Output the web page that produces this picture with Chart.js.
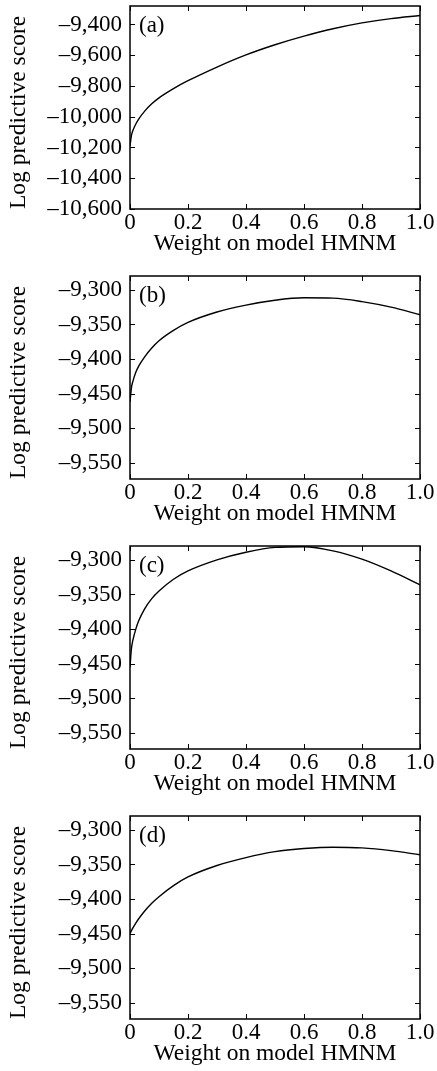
<!DOCTYPE html>
<html>
<head>
<meta charset="utf-8">
<title>Log predictive score against weight on model HMNM</title>
<script src="https://cdn.jsdelivr.net/npm/chart.js@4.4.0/dist/chart.umd.min.js"></script>
<style>
  html, body { margin: 0; padding: 0; background: #fff; overflow: hidden; }
  .panel { position: absolute; left: 0; width: 437px; height: 270px; }
</style>
</head>
<body>
<div class="panel" style="top:0px"><canvas id="chart-a"></canvas></div>
<div class="panel" style="top:270px"><canvas id="chart-b"></canvas></div>
<div class="panel" style="top:540px"><canvas id="chart-c"></canvas></div>
<div class="panel" style="top:810px"><canvas id="chart-d"></canvas></div>
<script>
// weight on HMNM (x) and log predictive score for each panel
const weights = [0, 0.005, 0.01, 0.02, 0.03, 0.05, 0.075, 0.1, 0.15, 0.2, 0.3, 0.4, 0.5, 0.6, 0.7, 0.8, 0.9, 1.0];
const scoreA = [-10190, -10122, -10090, -10047, -10015, -9965, -9916, -9877, -9817, -9766, -9677, -9598, -9532, -9476, -9428, -9390, -9362, -9342];
const scoreB = [-9462, -9441, -9432, -9419, -9410, -9397, -9384, -9373.5, -9358.5, -9347, -9332, -9322, -9315, -9311.5, -9312, -9317, -9325, -9336];
const scoreC = [-9455, -9428, -9416, -9400, -9388, -9371, -9356, -9345, -9328, -9316, -9300, -9289, -9282, -9281, -9287, -9299, -9316, -9336];
const scoreD = [-9450, -9445.5, -9441.5, -9434.5, -9428.3, -9417.5, -9406, -9396.5, -9380.5, -9368, -9351.5, -9340, -9331.5, -9327, -9325, -9326, -9330, -9336];

const panelLabels = ['(a)', '(b)', '(c)', '(d)'];
const xTicks = [0, 0.2, 0.4, 0.6, 0.8, 1.0];
const yTicksA = [-10600, -10400, -10200, -10000, -9800, -9600, -9400];
const yTicksRest = [-9550, -9500, -9450, -9400, -9350, -9300];
const yRangeA = [-10600, -9280];
const yRangeRest = [-9573, -9280];

const xTitle = 'Weight on model HMNM';
const yTitle = 'Log predictive score';

const serif = '"Liberation Serif", "Times New Roman", serif';
const tickFont = { family: serif, size: 23 };
const titleFont = { family: serif, size: 23.5 };

function fmtScore(v) {
  return (v < 0 ? '\u2013' : '') + Math.abs(v).toLocaleString('en-US');
}

function fmtWeight(v) {
  return v === 0 ? '0' : v.toFixed(1);
}

// box round the plot, inward ticks on all four sides, panel letter
const framePlugin = {
  id: 'frame',
  afterDraw(chart, args, opts) {
    const { ctx, chartArea: a, scales } = chart;
    const len = 5;
    ctx.save();
    ctx.strokeStyle = '#000';
    ctx.lineWidth = 1;
    ctx.beginPath();
    scales.x.ticks.forEach(t => {
      const px = Math.round(scales.x.getPixelForValue(t.value)) + 0.5;
      ctx.moveTo(px, a.bottom); ctx.lineTo(px, a.bottom - len);
      ctx.moveTo(px, a.top); ctx.lineTo(px, a.top + len);
    });
    scales.y.ticks.forEach(t => {
      const py = Math.round(scales.y.getPixelForValue(t.value)) + 0.5;
      ctx.moveTo(a.left, py); ctx.lineTo(a.left + len, py);
      ctx.moveTo(a.right, py); ctx.lineTo(a.right - len, py);
    });
    ctx.stroke();
    ctx.lineWidth = 1.5;
    ctx.strokeRect(a.left, a.top, a.right - a.left, a.bottom - a.top);
    ctx.fillStyle = '#000';
    ctx.font = '23px ' + serif;
    ctx.textAlign = 'left';
    ctx.textBaseline = 'middle';
    ctx.fillText(opts.label, a.left + 9, a.top + 20);
    ctx.restore();
  }
};

function makePanel(id, label, scores, yRange, yTicks) {
  new Chart(document.getElementById(id), {
    type: 'line',
    data: {
      datasets: [{
        data: weights.map((w, i) => ({ x: w, y: scores[i] })),
        borderColor: '#000',
        borderWidth: 1.4,
        pointRadius: 0,
        fill: false,
        cubicInterpolationMode: 'monotone'
      }]
    },
    options: {
      responsive: true,
      maintainAspectRatio: false,
      animation: false,
      layout: { padding: { top: 6, right: 17, bottom: 0, left: 0 } },
      plugins: {
        legend: { display: false },
        tooltip: { enabled: false },
        frame: { label: label }
      },
      scales: {
        x: {
          type: 'linear',
          min: 0,
          max: 1,
          afterBuildTicks: s => { s.ticks = xTicks.map(v => ({ value: v })); },
          afterFit: s => { s.height = 61; s.paddingLeft = 0; s.paddingRight = 0; },
          grid: { display: false, drawTicks: false },
          border: { display: false },
          ticks: { padding: 0, color: '#000', font: tickFont, autoSkip: false, maxRotation: 0, callback: fmtWeight },
          title: { display: true, text: xTitle, color: '#000', font: titleFont, padding: { top: 0, bottom: 12 } }
        },
        y: {
          type: 'linear',
          min: yRange[0],
          max: yRange[1],
          afterBuildTicks: s => { s.ticks = yTicks.map(v => ({ value: v })); },
          afterFit: s => { s.width = 130; s.paddingTop = 0; s.paddingBottom = 0; },
          grid: { display: false, drawTicks: false },
          border: { display: false },
          ticks: { padding: 8, color: '#000', font: tickFont, autoSkip: false, callback: fmtScore },
          title: { display: true, text: yTitle, align: 'start', color: '#000', font: titleFont, padding: { top: 5, bottom: 0 } }
        }
      }
    },
    plugins: [framePlugin]
  });
}

makePanel('chart-a', panelLabels[0], scoreA, yRangeA, yTicksA);
makePanel('chart-b', panelLabels[1], scoreB, yRangeRest, yTicksRest);
makePanel('chart-c', panelLabels[2], scoreC, yRangeRest, yTicksRest);
makePanel('chart-d', panelLabels[3], scoreD, yRangeRest, yTicksRest);
</script>
</body>
</html>
